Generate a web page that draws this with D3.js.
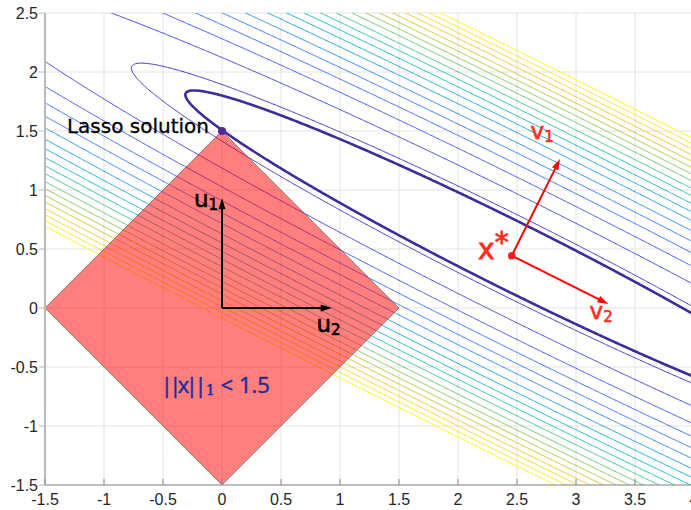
<!DOCTYPE html>
<html>
<head>
<meta charset="utf-8">
<script src="https://cdn.jsdelivr.net/npm/d3@7"></script>
<style>
  body { margin: 0; background: #fff; }
  svg { display: block; }
</style>
</head>
<body>
<div id="chart"></div>
<script>
let width = 691, height = 510

// tick labels
let xTicks = [-1.5, -1, -0.5, 0, 0.5, 1, 1.5, 2, 2.5, 3, 3.5, 4]
let yTicks = [-1.5, -1, -0.5, 0, 0.5, 1, 1.5, 2, 2.5]

// quadratic bowl: centre x*, angle of v2 (deg), eigenvalues [v1, v2]
let xStar = [2.455, 0.443]
let angleV2 = -26.5
let eig = [1, 0.0085]
// contour levels (thin lines) and the lasso level (thick line)
let levels = [0.11, 0.24, 0.38, 0.51, 0.64, 0.77, 0.91, 1.04, 1.17, 1.30, 1.43, 1.57, 1.70, 1.83, 1.96, 2.10, 2.23, 2.36, 2.49]
let lassoLevel = 0.081
let lassoPoint = [0, 1.5]
// l1 ball corners
let ball = [[-1.5, 0], [0, 1.5], [1.5, 0], [0, -1.5]]
// arrows (offsets from their origin)
let uArrows = [{ d: [0, 0.93], label: 'u', sub: '1' }, { d: [0.93, 0], label: 'u', sub: '2' }]
let vArrows = [{ d: [0.41, 0.82], label: 'v', sub: '1' }, { d: [0.82, -0.41], label: 'v', sub: '2' }]

// parula colormap samples
let parula = ['#3e26a8', '#4747eb', '#3e6fff', '#2796eb', '#08b5d0', '#31c69f', '#80cc59', '#dcbd29', '#fccf30', '#f9fb15']
let colorScale = d3.scaleSequential(d3.interpolateRgbBasis(parula)).domain([0, d3.max(levels)])

let x = d3.scaleLinear().domain([-1.5, 4]).range([45, 694])
let y = d3.scaleLinear().domain([-1.5, 2.5]).range([485, 13])

let svg = d3.select('#chart')
  .append('svg')
  .attr('width', width)
  .attr('height', height)
  .style('font-family', '"Liberation Sans", Arial, sans-serif')

svg.append('defs').append('clipPath')
  .attr('id', 'plot')
  .append('rect')
  .attr('x', x(-1.5)).attr('y', y(2.5))
  .attr('width', x(4) - x(-1.5)).attr('height', y(-1.5) - y(2.5))

// grid
let grid = svg.append('g').attr('stroke', '#e4e4e4').attr('stroke-width', 1)
grid.selectAll('.gx').data(xTicks).enter().append('line')
  .attr('x1', d => x(d)).attr('x2', d => x(d))
  .attr('y1', y(-1.5)).attr('y2', y(2.5))
grid.selectAll('.gy').data(yTicks).enter().append('line')
  .attr('x1', x(-1.5)).attr('x2', x(4))
  .attr('y1', d => y(d)).attr('y2', d => y(d))

// field on a grid a bit larger than the plot
let step = 0.01, gx0 = -1.7, gy0 = -1.7
let nx = Math.round((4.2 - gx0) / step) + 1
let ny = Math.round((2.7 - gy0) / step) + 1
let ang = angleV2 * Math.PI / 180
let v2 = [Math.cos(ang), Math.sin(ang)], v1 = [-Math.sin(ang), Math.cos(ang)]
let field = (px, py) => {
  let dx = px - xStar[0], dy = py - xStar[1]
  let b = dx * v1[0] + dy * v1[1], a = dx * v2[0] + dy * v2[1]
  return eig[0] * b * b + eig[1] * a * a
}
let values = new Float64Array(nx * ny)
for (let j = 0; j < ny; j++) {
  for (let i = 0; i < nx; i++) {
    values[j * nx + i] = field(gx0 + i * step, gy0 + j * step)
  }
}
let proj = d3.geoTransform({
  point: function (px, py) {
    this.stream.point(x(gx0 + (px - 0.5) * step), y(gy0 + (py - 0.5) * step))
  }
})
let path = d3.geoPath(proj)
let contours = d3.contours().size([nx, ny])

let plot = svg.append('g').attr('clip-path', 'url(#plot)')
plot.selectAll('.level')
  .data(contours.thresholds(levels)(values))
  .enter()
  .append('path')
  .attr('class', 'level')
  .attr('d', path)
  .attr('fill', 'none')
  .attr('stroke', d => colorScale(d.value))
  .attr('stroke-width', 1)

plot.append('path')
  .datum(contours.contour(values, lassoLevel))
  .attr('d', path)
  .attr('fill', 'none')
  .attr('stroke', '#3b2d9b')
  .attr('stroke-width', 2.6)

// l1 ball
svg.append('polygon')
  .attr('points', ball.map(p => [x(p[0]), y(p[1])].join(',')).join(' '))
  .attr('fill', 'rgba(255,0,0,0.5)')
  .attr('stroke', '#555')
  .attr('stroke-width', 0.6)

// axes
svg.append('line')
  .attr('x1', x(-1.5)).attr('x2', x(4))
  .attr('y1', y(-1.5)).attr('y2', y(-1.5))
  .attr('stroke', '#8c8c8c').attr('stroke-width', 1.2)
svg.append('line')
  .attr('x1', x(-1.5)).attr('x2', x(-1.5))
  .attr('y1', y(-1.5)).attr('y2', y(2.5))
  .attr('stroke', '#bcbcbc').attr('stroke-width', 2.2)
svg.selectAll('.tx').data(xTicks).enter().append('line')
  .attr('x1', d => x(d)).attr('x2', d => x(d))
  .attr('y1', y(-1.5)).attr('y2', y(-1.5) - 6)
  .attr('stroke', '#8c8c8c')
svg.selectAll('.ty').data(yTicks).enter().append('line')
  .attr('x1', x(-1.5) - 6).attr('x2', x(-1.5))
  .attr('y1', d => y(d)).attr('y2', d => y(d))
  .attr('stroke', '#bcbcbc')
svg.selectAll('.lx').data(xTicks).enter().append('text')
  .attr('x', d => x(d)).attr('y', y(-1.5) + 20)
  .attr('text-anchor', 'middle')
  .attr('font-size', 16).attr('fill', '#262626')
  .text(d => d)
svg.selectAll('.ly').data(yTicks).enter().append('text')
  .attr('x', x(-1.5) - 7).attr('y', d => y(d) + 6)
  .attr('text-anchor', 'end')
  .attr('font-size', 16).attr('fill', '#262626')
  .text(d => d)

// arrows
let arrow = (x0, y0, x1, y1, color) => {
  let len = Math.hypot(x1 - x0, y1 - y0), ux = (x1 - x0) / len, uy = (y1 - y0) / len
  let hl = 11, hw = 3.5
  svg.append('line')
    .attr('x1', x0).attr('y1', y0)
    .attr('x2', x1 - ux * hl * 0.8).attr('y2', y1 - uy * hl * 0.8)
    .attr('stroke', color).attr('stroke-width', 2)
  svg.append('polygon')
    .attr('points', [
      [x1, y1],
      [x1 - ux * hl - uy * hw, y1 - uy * hl + ux * hw],
      [x1 - ux * hl + uy * hw, y1 - uy * hl - ux * hw]
    ].map(p => p.join(',')).join(' '))
    .attr('fill', color)
}
uArrows.forEach(a => arrow(x(0), y(0), x(a.d[0]), y(a.d[1]), '#000'))
vArrows.forEach(a => arrow(x(xStar[0]), y(xStar[1]), x(xStar[0] + a.d[0]), y(xStar[1] + a.d[1]), '#ff0000'))

let comic = '"Comic Sans MS", "DejaVu Sans", sans-serif'
let subLabel = (px, py, main, sub, color, anchor) => {
  let t = svg.append('text')
    .attr('x', px).attr('y', py)
    .attr('text-anchor', anchor)
    .attr('font-family', comic)
    .attr('font-size', 23)
    .attr('fill', color)
    .attr('stroke', color)
    .attr('stroke-width', 0.6)
  t.append('tspan').text(main)
  t.append('tspan').attr('font-size', 15).attr('dy', 3).text(sub)
}
subLabel(x(0) - 4, y(0.86), 'u', '1', '#000', 'end')
subLabel(x(0.8), y(-0.2), 'u', '2', '#000', 'start')
subLabel(x(xStar[0] + 0.16), y(xStar[1] + 0.99), 'v', '1', '#ff2b1c', 'start')
subLabel(x(xStar[0] + 0.66), y(xStar[1] - 0.54), 'v', '2', '#ff2b1c', 'start')

let xs = svg.append('text')
  .attr('x', x(xStar[0]) - 3).attr('y', y(xStar[1]) + 3)
  .attr('text-anchor', 'end')
  .attr('font-family', comic)
  .attr('font-size', 28)
  .attr('fill', '#ff2b1c')
  .attr('stroke', '#ff2b1c')
  .attr('stroke-width', 0.8)
xs.append('tspan').text('x')
xs.append('tspan').attr('dy', -7).text('*')

svg.append('circle')
  .attr('cx', x(xStar[0])).attr('cy', y(xStar[1])).attr('r', 3.8)
  .attr('fill', '#ff1a1a')

svg.append('text')
  .attr('x', x(lassoPoint[0]) - 13).attr('y', y(lassoPoint[1]) + 2)
  .attr('text-anchor', 'end')
  .attr('font-family', comic)
  .attr('font-size', 20)
  .attr('fill', '#000')
  .attr('stroke', '#000')
  .attr('stroke-width', 0.3)
  .text('Lasso solution')

svg.append('circle')
  .attr('cx', x(lassoPoint[0])).attr('cy', y(lassoPoint[1])).attr('r', 4)
  .attr('fill', '#4b2c9b')

let nl = svg.append('text')
  .attr('x', x(-0.52)).attr('y', y(-0.72))
  .attr('font-size', 22)
  .attr('fill', '#1d2c9c')
  .attr('stroke', '#1d2c9c')
  .attr('stroke-width', 0.5)
  .attr('font-family', '"Open Sans", "DejaVu Sans", sans-serif')
nl.append('tspan').attr('letter-spacing', -3.5).text('||x||')
nl.append('tspan').attr('font-size', 14).attr('dx', 3).attr('dy', 2).attr('font-family', '"DejaVu Serif", serif').text('1')
nl.append('tspan').attr('dy', -2).text(' < 1.5')
</script>
</body>
</html>
